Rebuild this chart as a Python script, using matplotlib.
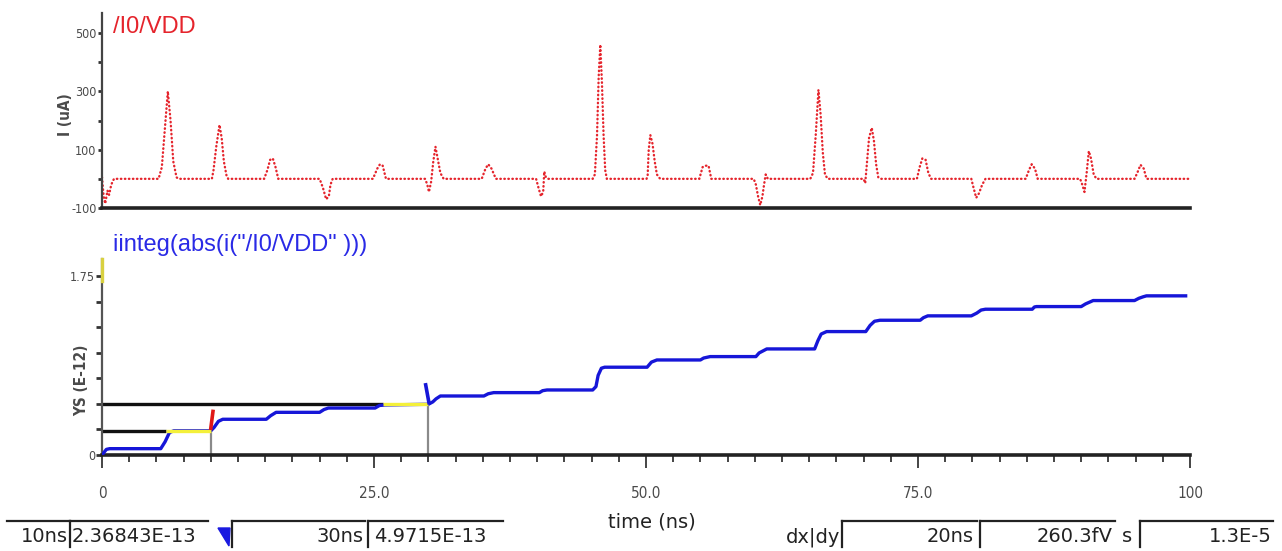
import matplotlib
matplotlib.use("Agg")
import matplotlib.pyplot as plt
from matplotlib.lines import Line2D
from matplotlib.patches import Polygon
from matplotlib.ticker import MultipleLocator, FixedLocator, NullFormatter

# ---- supply current of /I0/VDD (uA), breakpoints over time (ns) ----
vdd_t_ns = [0.0, 0.15, 0.3, 0.5, 0.65, 0.85, 1.1,
            5.2, 5.5, 5.8, 6.05, 6.3, 6.55, 6.85, 7.05,
            10.1, 10.25, 10.5, 10.8, 11.0, 11.2, 11.45, 11.6,
            14.9, 15.2, 15.45, 15.7, 15.95, 16.2,
            20.0, 20.3, 20.6, 20.85, 21.0, 21.2,
            24.9, 25.3, 25.55, 25.8, 26.1,
            29.7, 29.9, 30.05, 30.25, 30.45, 30.65, 30.85, 31.1, 31.4,
            34.9, 35.25, 35.5, 35.8, 36.2,
            39.9, 40.15, 40.35, 40.55, 40.65, 40.8, 41.0,
            45.1, 45.3, 45.5, 45.65, 45.8, 45.95, 46.1, 46.25, 46.4,
            50.05, 50.15, 50.25, 50.4, 50.6, 50.8, 51.0, 51.3,
            54.9, 55.2, 55.4, 55.75, 56.0,
            59.9, 60.1, 60.3, 60.5, 60.7, 60.85, 61.0, 61.2,
            65.1, 65.35, 65.6, 65.85, 66.05, 66.25, 66.45, 66.7,
            70.0, 70.15, 70.3, 70.5, 70.75, 70.95, 71.15, 71.35, 71.6,
            74.9, 75.15, 75.4, 75.7, 75.95, 76.2,
            79.9, 80.1, 80.35, 80.6, 80.9, 81.2,
            84.9, 85.2, 85.45, 85.75, 86.0,
            89.9, 90.1, 90.3, 90.5, 90.7, 90.9, 91.15, 91.4,
            94.9, 95.15, 95.45, 95.75, 96.0,
            100.0]
vdd_i_ua = [5, -60, -85, -40, -55, -20, 0,
            0, 40, 180, 300, 200, 60, 5, 0,
            0, 30, 110, 185, 140, 60, 10, 0,
            0, 30, 65, 70, 40, 0,
            0, -30, -70, -60, -20, 0,
            0, 35, 50, 45, 0,
            0, -20, -45, -10, 60, 110, 70, 20, 0,
            0, 35, 50, 35, 0,
            0, -35, -60, -45, 25, 5, 0,
            0, 15, 150, 350, 460, 330, 150, 30, 0,
            0, 10, 100, 150, 120, 60, 15, 0,
            0, 40, 45, 45, 0,
            0, -20, -60, -90, -60, -20, 15, 0,
            0, 20, 150, 305, 220, 90, 15, 0,
            0, -15, 50, 140, 175, 130, 50, 5, 0,
            0, 40, 70, 65, 20, 0,
            0, -30, -65, -50, -20, 0,
            0, 30, 50, 35, 0,
            0, -20, -45, 20, 95, 70, 15, 0,
            0, 20, 48, 35, 0,
            0]

# ---- iinteg(abs(i("/I0/VDD"))) in units of 1E-12 ----
integ_t_ns = [0.0, 0.4, 0.7, 5.4, 5.8, 6.2, 6.6,
              10.0, 10.3, 10.7, 11.1, 15.1, 15.5, 16.0,
              20.0, 20.4, 20.8, 25.1, 25.5, 26.0,
              30.0, 30.4, 30.7, 31.1, 35.1, 35.5, 36.0,
              40.2, 40.5, 40.9, 45.1, 45.4, 45.6, 45.9, 46.2,
              50.1, 50.5, 51.0, 55.0, 55.3, 55.9,
              60.1, 60.4, 61.1, 65.5, 65.8, 66.1, 66.6,
              70.2, 70.6, 71.0, 71.5, 75.2, 75.5, 75.9,
              79.9, 80.4, 80.8, 81.2, 85.5, 85.7, 85.9,
              90.0, 90.4, 91.1, 94.9, 95.3, 95.7, 96.0, 99.6]
integ_ys_e12 = [0.0, 0.055, 0.062, 0.062, 0.13, 0.22, 0.237,
                0.237, 0.27, 0.33, 0.35, 0.35, 0.385, 0.418,
                0.418, 0.445, 0.46, 0.46, 0.485, 0.49,
                0.497, 0.52, 0.55, 0.578, 0.578, 0.6, 0.611,
                0.611, 0.63, 0.637, 0.637, 0.67, 0.78, 0.85, 0.86,
                0.86, 0.91, 0.931, 0.931, 0.95, 0.964,
                0.964, 1.0, 1.039, 1.039, 1.12, 1.185, 1.209,
                1.209, 1.27, 1.31, 1.32, 1.32, 1.345, 1.363,
                1.363, 1.39, 1.42, 1.428, 1.428, 1.45, 1.454,
                1.454, 1.48, 1.513, 1.513, 1.535, 1.55, 1.559, 1.559]

# ---- cursors ----
cursor_t_ns = [10.0, 30.0]
cursor_ys_e12 = [0.236843, 0.49715]
cursor_track_start_ns = [5.9, 25.8]
cursor_time_labels = ["10ns", "30ns"]
cursor_value_labels = ["2.36843E-13", "4.9715E-13"]
delta_labels = ["20ns", "260.3fV"]
slope_label = "1.3E-5"

x_major_ticks = [0, 25, 50, 75, 100]
x_major_labels = ["0", "25.0", "50.0", "75.0", "100"]
top_y_labels = [-100, 100, 300, 500]
bottom_y_labels = [0, 1.75]

W, H = 1282, 551
fig = plt.figure(figsize=(W / 100, H / 100), dpi=100)
fig.patch.set_facecolor("white")

small = dict(family="DejaVu Sans", fontstretch="condensed", color="#4a4a4a")
RED = "#e5242c"
BLUE = "#1616d8"


def px_axes(x0, y_top, x1, y_bot):
    return fig.add_axes([x0 / W, 1 - y_bot / H, (x1 - x0) / W, (y_bot - y_top) / H])


# ---------------- top panel ----------------
ax1 = px_axes(102, 13, 1190, 208)
ax1.plot(vdd_t_ns, vdd_i_ua, color=RED, lw=1.7, linestyle=(0, (0.2, 1.5)),
         dash_capstyle="round", solid_joinstyle="round")
ax1.set_xlim(0, 100)
ax1.set_ylim(-100, 568.6)
for s in ("top", "right"):
    ax1.spines[s].set_visible(False)
ax1.spines["bottom"].set_linewidth(2.6)
ax1.spines["bottom"].set_color("#222222")
ax1.spines["left"].set_linewidth(1.6)
ax1.spines["left"].set_color("#444444")
ax1.set_xticks([])
ax1.yaxis.set_major_locator(FixedLocator(top_y_labels))
ax1.yaxis.set_minor_locator(FixedLocator([0, 200, 400]))
ax1.set_yticklabels([str(v) for v in top_y_labels], fontsize=9, **small)
ax1.tick_params(axis="y", which="both", direction="out", length=3, width=2,
                color="#333333", pad=1)
ax1.text(0.010, 0.93, "/I0/VDD", transform=ax1.transAxes, color=RED,
         fontsize=17, family="Liberation Sans", va="center", ha="left")
fig.text(66 / W, 1 - 115 / H, "I (uA)", rotation=90, ha="center", va="center",
         fontsize=11, fontweight="bold", **small)

# ---------------- bottom panel ----------------
ax2 = px_axes(102, 259, 1190, 455)
ax2.set_xlim(0, 100)
ax2.set_ylim(0, 1.92)

for t, v, ts in zip(cursor_t_ns, cursor_ys_e12, cursor_track_start_ns):
    ax2.plot([0, ts], [v, v], color="#111111", lw=2.4, zorder=2, solid_capstyle="butt")
    ax2.plot([t, t], [0, v], color="#8a8a8a", lw=1.6, zorder=2)

ax2.plot(integ_t_ns, integ_ys_e12, color=BLUE, lw=2.4, zorder=3,
         solid_joinstyle="round")

for t, v, ts in zip(cursor_t_ns, cursor_ys_e12, cursor_track_start_ns):
    ax2.plot([ts, t], [v, v], color="#f4f03a", lw=2.4, zorder=4, solid_capstyle="butt")

# cursor tags on the trace
c1, c2 = cursor_t_ns
v1, v2 = cursor_ys_e12
ax2.plot([c1, c1 + 0.2], [v1 + 0.025, v1 + 0.19], color="#e01818", lw=2.6, zorder=5)
ax2.plot([c2 - 0.25, c2 + 0.05], [v2 + 0.19, v2 + 0.015], color=BLUE, lw=2.6, zorder=5)
ax2.plot([0, 0], [1.7, 1.92], color="#d8d040", lw=2.4, zorder=6, clip_on=False)

for s in ("top", "right"):
    ax2.spines[s].set_visible(False)
ax2.spines["bottom"].set_linewidth(2.6)
ax2.spines["bottom"].set_color("#222222")
ax2.spines["left"].set_linewidth(1.6)
ax2.spines["left"].set_color("#555555")
ax2.xaxis.set_major_locator(FixedLocator(x_major_ticks))
ax2.xaxis.set_minor_locator(MultipleLocator(2.5))
ax2.set_xticklabels(x_major_labels, fontsize=11, **small)
ax2.tick_params(axis="x", which="major", direction="out", length=9, width=1.4,
                color="#444444", pad=13)
ax2.tick_params(axis="x", which="minor", direction="out", length=5, width=1.4,
                color="#444444")
ax2.yaxis.set_major_locator(FixedLocator(bottom_y_labels))
ax2.yaxis.set_minor_locator(FixedLocator([0.25, 0.5, 0.75, 1.0, 1.25, 1.5]))
ax2.yaxis.set_minor_formatter(NullFormatter())
ax2.set_yticklabels(["0", "1.75"], fontsize=9, **small)
ax2.tick_params(axis="y", which="both", direction="out", length=4, width=2,
                color="#333333", pad=1)
ax2.text(0.010, 1.07, 'iinteg(abs(i("/I0/VDD" )))', transform=ax2.transAxes,
         color="#2a2ae6", fontsize=17, family="Liberation Sans", va="center", ha="left")
fig.text(82 / W, 1 - 380 / H, "YS (E-12)", rotation=90, ha="center", va="center",
         fontsize=11, fontweight="bold", **small)

fig.text(652 / W, 1 - 522 / H, "time (ns)", ha="center", va="center",
         fontsize=14, family="DejaVu Sans", color="#222222")

# ---------------- cursor readout strip ----------------
ov = fig.add_axes([0, 0, 1, 1], zorder=-1)
ov.set_xlim(0, W)
ov.set_ylim(H, 0)
ov.axis("off")
box_top, box_bot, text_y = 521, 547, 537
edge = dict(color="#222222", lw=1.6)
box_spans = [(7, 70, False), (70, 208, True), (232, 365, True), (368, 503, True),
             (842, 977, True), (980, 1115, True), (1140, 1273, True)]
for x0, x1, left in box_spans:
    ov.add_line(Line2D([x0, x1], [box_top, box_top], **edge))
    if left:
        ov.add_line(Line2D([x0, x0], [box_top, box_bot], **edge))

txt = dict(fontsize=14, family="DejaVu Sans", color="#222222", va="center")
ov.text(68, text_y, cursor_time_labels[0], ha="right", **txt)
ov.text(72, text_y, cursor_value_labels[0], ha="left", **txt)
ov.text(363, text_y, cursor_time_labels[1], ha="right", **txt)
ov.text(374, text_y, cursor_value_labels[1], ha="left", **txt)
ov.text(840, text_y, "dx|dy", ha="right", **txt)
ov.text(974, text_y, delta_labels[0], ha="right", **txt)
ov.text(1113, text_y, delta_labels[1], ha="right", **txt)
ov.text(1127, text_y, "s", ha="center", **txt)
ov.text(1272, text_y, slope_label, ha="right", **txt)
ov.add_patch(Polygon([[218, 528], [230, 528], [229, 546]], closed=True,
                     color="#1a1ae0"))

fig.savefig("out.png", dpi=100, facecolor="white")
